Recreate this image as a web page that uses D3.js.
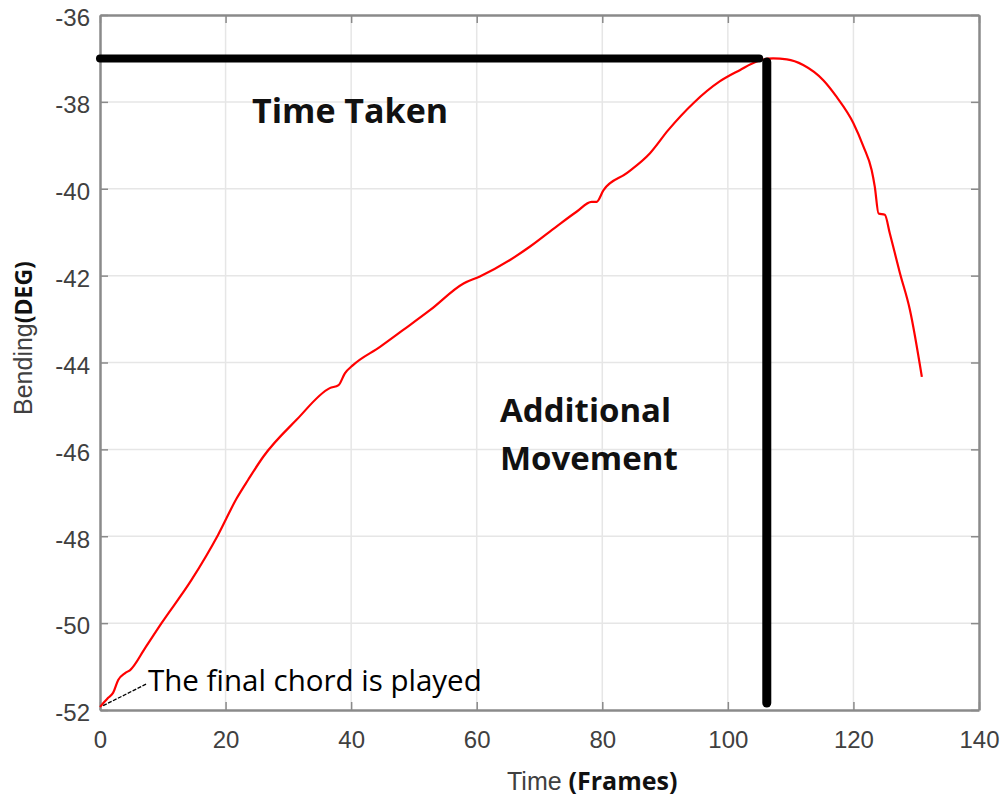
<!DOCTYPE html>
<html>
<head>
<meta charset="utf-8">
<script src="https://cdn.jsdelivr.net/npm/d3@7"></script>
<style>
  html, body { margin: 0; padding: 0; background: #fff; }
  svg { display: block; }
</style>
</head>
<body>
<svg id="chart" width="1005" height="803"></svg>
<script>
// Bending angle over time after the final chord
const frames = [0, 1.3, 2.1, 2.9, 4.0, 4.8, 7.2, 9.8, 14.6, 18.8, 21.8, 23.6, 26.0, 31.3, 36.6, 38.0, 39.0, 40.3,
  44.6, 48.3, 52.6, 57.9, 60.5, 65.3, 68.5, 72.7, 75.9, 78.3, 79.1, 80.2, 83.9, 87.6, 90.5, 94.5, 98.7,
  101.9, 104.6, 107.2, 109.4, 112.0, 115.2, 117.3, 120.0, 121.6, 122.9, 123.4, 124.0, 125.0, 125.8,
  127.4, 129.0, 130.9];
const bending = [-51.93, -51.72, -51.60, -51.31, -51.15, -51.08, -50.57, -50.00, -49.00, -47.97, -47.12, -46.70,
  -46.17, -45.32, -44.59, -44.52, -44.25, -44.06, -43.64, -43.25, -42.79, -42.18, -42.02, -41.64, -41.33,
  -40.87, -40.53, -40.30, -40.30, -40.03, -39.64, -39.18, -38.65, -38.03, -37.53, -37.27, -37.07, -37.00,
  -37.02, -37.15, -37.50, -37.88, -38.49, -39.03, -39.57, -39.95, -40.57, -40.60, -41.03, -41.94, -42.79,
  -44.33];

const xTicks = [0, 20, 40, 60, 80, 100, 120, 140];
const yTicks = [-52, -50, -48, -46, -44, -42, -40, -38, -36];

// Guide lines: peak level (time taken) and the frame where additional movement starts
const peakLevel = -37;
const peakEndFrame = 105;
const moveFrame = 106.2;
const moveBottom = -51.84;
const moveTop = -37.08;

// Leader for the "final chord" note
const chordPoint = [0.5, -51.9];
const chordLabelPoint = [7.4, -51.4];

const margin = { left: 100, top: 15, right: 26, bottom: 93 };
const W = 1005, H = 803;
const svg = d3.select("#chart");

const x = d3.scaleLinear().domain([0, 140]).range([margin.left, W - margin.right]);
const y = d3.scaleLinear().domain([-52, -36]).range([H - margin.bottom, margin.top]);

const axisColor = "#8a8a8a";
const textColor = "#404040";
const plainLabel = d => String(d);

// grid
const grid = svg.append("g");
grid.selectAll("line.vx").data(xTicks.slice(1, -1)).join("line")
  .attr("x1", d => x(d)).attr("x2", d => x(d))
  .attr("y1", y(-52)).attr("y2", y(-36))
  .attr("stroke", "#e6e6e6").attr("stroke-width", 1.5);
grid.selectAll("line.hy").data(yTicks.slice(1, -1)).join("line")
  .attr("x1", x(0)).attr("x2", x(140))
  .attr("y1", d => y(d)).attr("y2", d => y(d))
  .attr("stroke", "#e6e6e6").attr("stroke-width", 1.5);

// axes (inward ticks on all four sides, box style)
function styleAxis(g) {
  g.select(".domain").attr("stroke", axisColor).attr("stroke-width", 2.5);
  g.selectAll(".tick line").attr("stroke", axisColor).attr("stroke-width", 1.5);
  g.selectAll(".tick text").attr("fill", textColor)
    .attr("font-family", "'Liberation Sans', Arial, sans-serif").attr("font-size", 24);
}
const bottomAxis = svg.append("g").attr("transform", `translate(0,${y(-52)})`)
  .call(d3.axisBottom(x).tickValues(xTicks).tickFormat(plainLabel).tickSize(-8).tickSizeOuter(0).tickPadding(21));
styleAxis(bottomAxis);
const topAxis = svg.append("g").attr("transform", `translate(0,${y(-36)})`)
  .call(d3.axisTop(x).tickValues(xTicks).tickSize(-8).tickSizeOuter(0).tickFormat(""));
styleAxis(topAxis);
const leftAxis = svg.append("g").attr("transform", `translate(${x(0)},0)`)
  .call(d3.axisLeft(y).tickValues(yTicks).tickFormat(plainLabel).tickSize(-8).tickSizeOuter(0).tickPadding(10));
styleAxis(leftAxis);
leftAxis.selectAll(".tick text").attr("dy", "0.45em");
const rightAxis = svg.append("g").attr("transform", `translate(${x(140)},0)`)
  .call(d3.axisRight(y).tickValues(yTicks).tickSize(-8).tickSizeOuter(0).tickFormat(""));
styleAxis(rightAxis);

// bending curve
const line = d3.line().x((d, i) => x(frames[i])).y(d => y(d)).curve(d3.curveMonotoneX);
svg.append("path").datum(bending)
  .attr("d", line)
  .attr("fill", "none").attr("stroke", "#ff0000").attr("stroke-width", 2.2)
  .attr("stroke-linejoin", "round");

// guide lines
svg.append("line")
  .attr("x1", x(0)).attr("x2", x(peakEndFrame))
  .attr("y1", y(peakLevel)).attr("y2", y(peakLevel))
  .attr("stroke", "#000").attr("stroke-width", 8).attr("stroke-linecap", "round");
svg.append("line")
  .attr("x1", x(moveFrame)).attr("x2", x(moveFrame))
  .attr("y1", y(moveTop)).attr("y2", y(moveBottom))
  .attr("stroke", "#000").attr("stroke-width", 9).attr("stroke-linecap", "round");

// annotations
const noteFont = "'Open Sans', 'Noto Sans', sans-serif";
svg.append("text").attr("x", 252).attr("y", 123)
  .attr("font-family", noteFont).attr("font-weight", 700).attr("font-size", 34)
  .attr("fill", "#111").text("Time Taken");
svg.append("text").attr("x", 500).attr("y", 422)
  .attr("font-family", noteFont).attr("font-weight", 700).attr("font-size", 33)
  .attr("fill", "#111").text("Additional");
svg.append("text").attr("x", 500).attr("y", 470)
  .attr("font-family", noteFont).attr("font-weight", 700).attr("font-size", 33)
  .attr("fill", "#111").text("Movement");

svg.append("line")
  .attr("x1", x(chordPoint[0])).attr("y1", y(chordPoint[1]))
  .attr("x2", x(chordLabelPoint[0])).attr("y2", y(chordLabelPoint[1]))
  .attr("stroke", "#000").attr("stroke-width", 1.3).attr("stroke-dasharray", "4,1.5");
svg.append("text").attr("x", 148).attr("y", 691)
  .attr("font-family", noteFont).attr("font-size", 29.5)
  .attr("fill", "#000").text("The final chord is played");

// axis titles
const xt = svg.append("text").attr("x", 507).attr("y", 790)
  .attr("font-family", "'Liberation Sans', Arial, sans-serif").attr("font-size", 25).attr("fill", textColor);
xt.append("tspan").text("Time ");
xt.append("tspan").attr("font-family", noteFont).attr("font-weight", 700).attr("font-size", 25)
  .attr("fill", "#111").text("(Frames)");

const yt = svg.append("text").attr("transform", "translate(32,415) rotate(-90)")
  .attr("font-family", "'Liberation Sans', Arial, sans-serif").attr("font-size", 25).attr("fill", textColor);
yt.append("tspan").text("Bending");
yt.append("tspan").attr("font-family", noteFont).attr("font-weight", 700).attr("font-size", 23)
  .attr("fill", "#111").text("(DEG)");
</script>
</body>
</html>
